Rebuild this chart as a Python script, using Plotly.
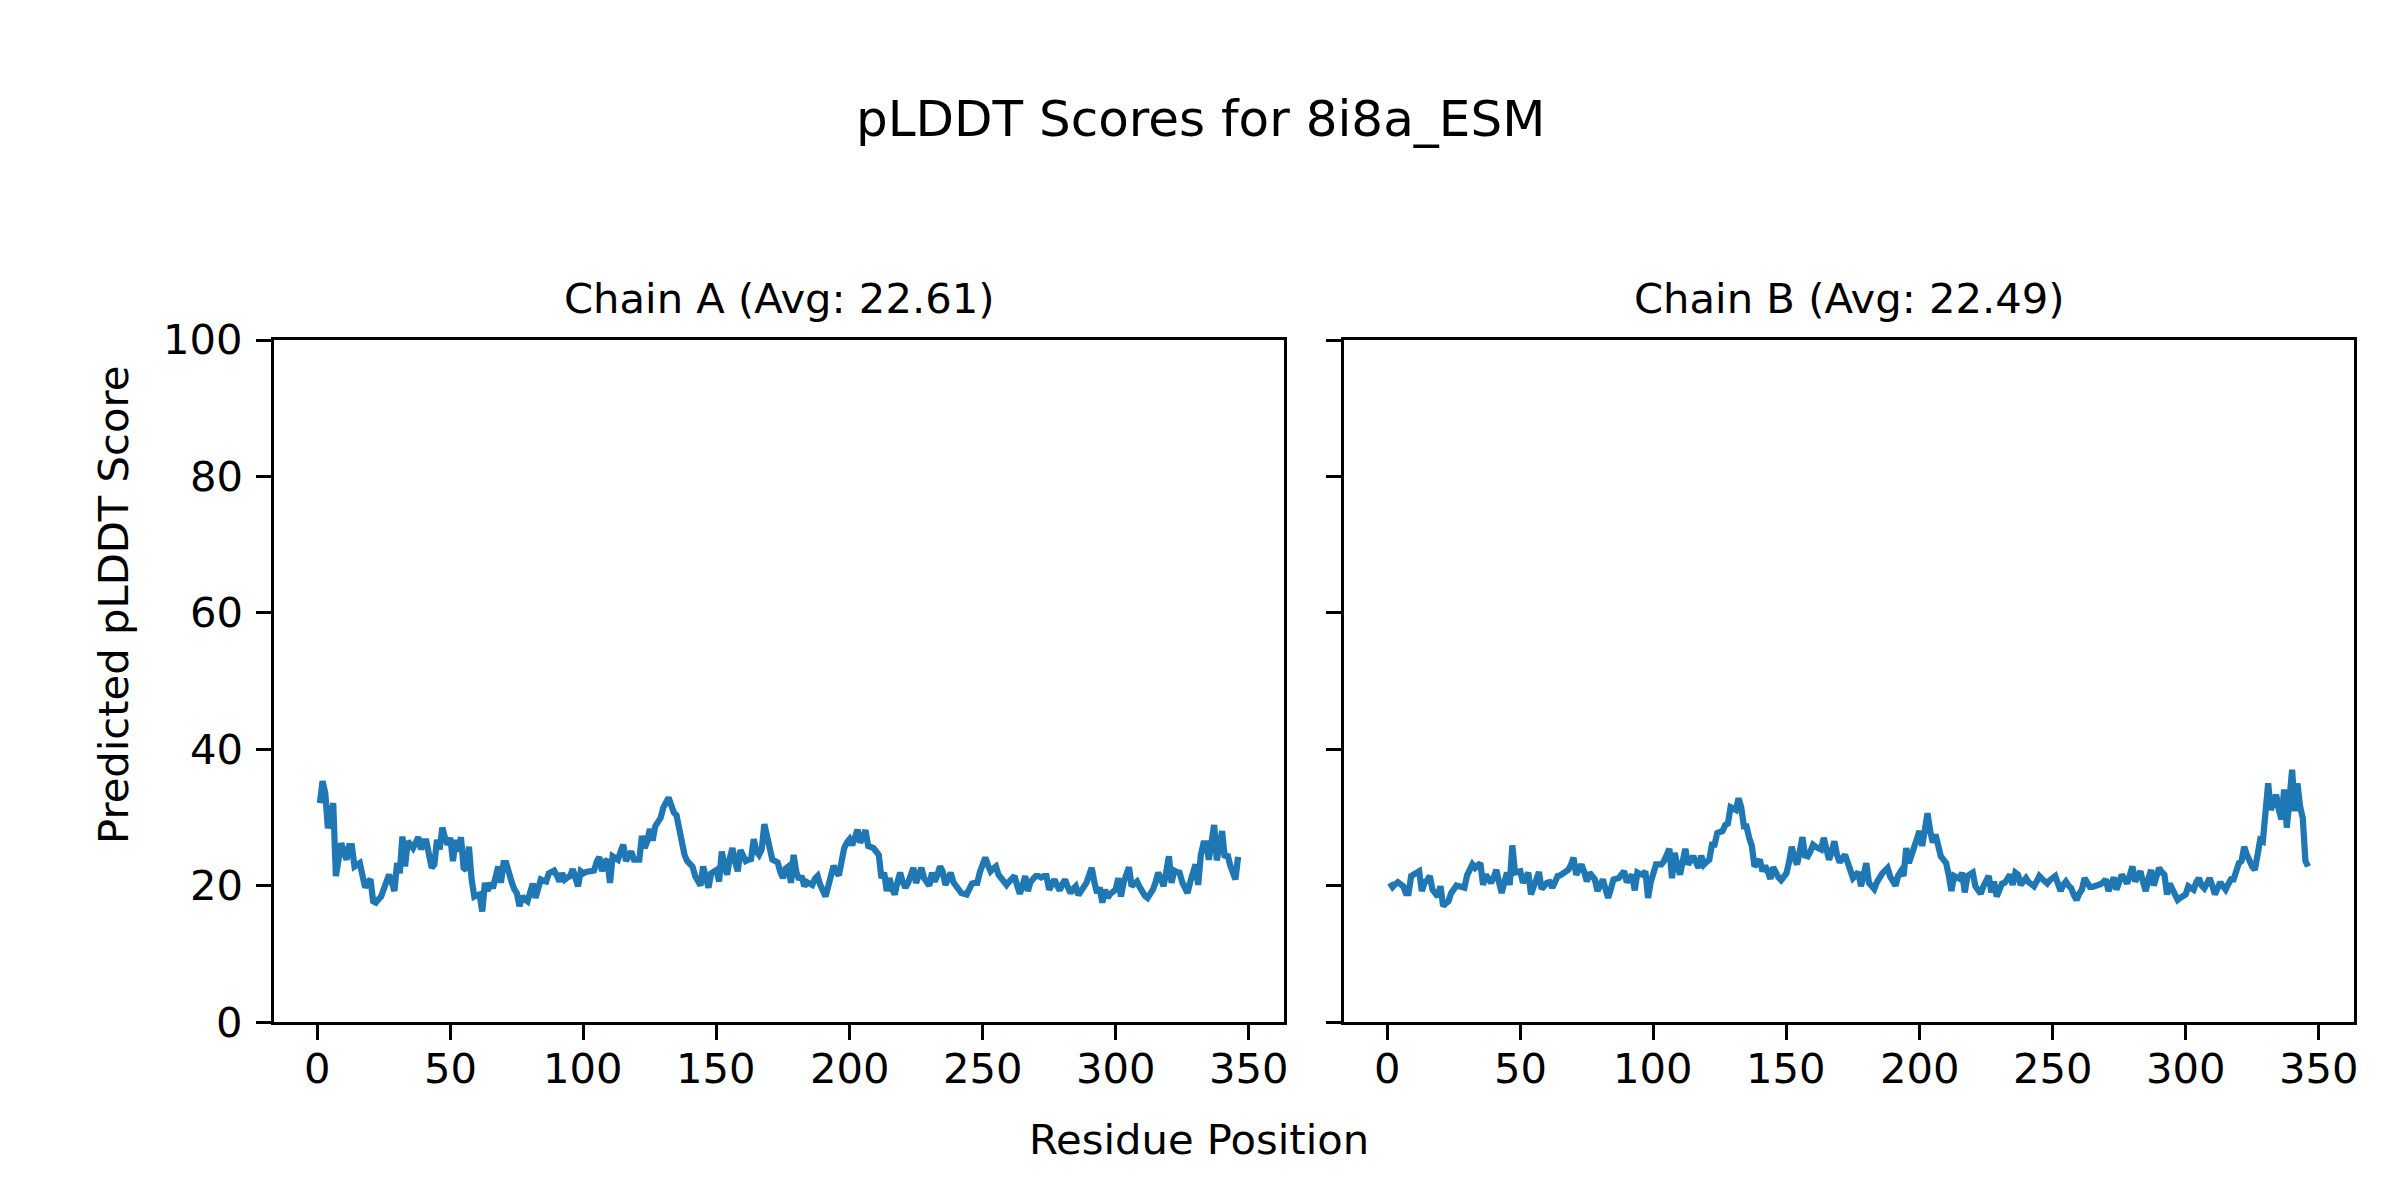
import plotly.graph_objects as go

title_text = "pLDDT Scores for 8i8a_ESM"
chain_titles = ["Chain A (Avg: 22.61)", "Chain B (Avg: 22.49)"]
x_label = "Residue Position"
y_label = "Predicted pLDDT Score"

chain_a = [
    32.1, 35.3, 33.6, 28.4, 30.0, 32.1, 21.4, 24.0, 26.2, 25.0,
    23.8, 25.8, 25.8, 22.8, 23.0, 23.3, 21.5, 19.7, 20.5, 20.9,
    17.7, 17.5, 18.0, 18.4, 19.5, 20.5, 21.6, 20.5, 19.2, 23.3,
    21.8, 27.2, 22.8, 26.5, 26.0, 25.5, 26.3, 27.1, 25.3, 26.5,
    26.5, 24.5, 22.6, 23.1, 26.7, 25.3, 28.5, 27.0, 26.0, 27.0,
    23.6, 26.7, 25.0, 27.1, 22.6, 22.3, 25.7, 20.9, 18.4, 18.6,
    18.7, 16.2, 20.4, 19.2, 20.4, 19.6, 21.0, 22.8, 20.4, 23.3,
    23.3, 21.5, 20.6, 19.5, 18.9, 17.0, 18.4, 18.0, 17.7, 19.0,
    20.3, 18.2, 19.5, 20.9, 20.7, 20.6, 21.8, 22.0, 22.2, 21.5,
    20.6, 21.8, 20.9, 21.2, 21.4, 22.4, 21.0, 19.9, 22.1, 21.8,
    22.0, 22.1, 22.1, 22.2, 23.5, 24.2, 22.1, 23.5, 23.8, 20.4,
    24.3, 24.0, 23.8, 25.0, 26.0, 23.6, 24.5, 25.0, 23.8, 23.8,
    23.8, 27.3, 25.5, 26.5, 28.3, 26.6, 28.7, 29.3, 29.9, 31.4,
    32.0, 32.9, 31.8, 30.7, 30.3, 28.0, 25.8, 24.5, 23.6, 23.0,
    22.8, 21.4, 20.8, 20.0, 22.8, 21.0, 19.7, 21.8, 22.0, 22.3,
    20.6, 25.0, 23.0, 21.6, 24.0, 25.5, 23.5, 22.1, 25.2, 24.3,
    23.6, 23.8, 23.9, 26.8, 25.0, 24.5, 25.3, 29.0, 27.0, 25.8,
    23.8, 23.6, 23.4, 22.0, 21.1, 22.5, 22.8, 20.4, 24.5, 22.0,
    20.9, 21.4, 19.9, 20.5, 20.3, 20.1, 21.0, 21.4, 20.1, 19.2,
    18.4, 19.9, 21.5, 22.9, 22.0, 21.5, 23.5, 25.5, 26.3, 26.8,
    25.9, 27.5, 28.2, 26.3, 27.2, 28.1, 25.8, 25.6, 25.5, 25.0,
    24.5, 21.1, 21.9, 19.2, 21.1, 19.5, 18.7, 20.5, 21.9, 20.5,
    19.7, 20.4, 21.5, 22.6, 20.4, 21.5, 22.6, 21.1, 20.5, 20.0,
    21.9, 20.6, 21.5, 22.8, 22.1, 20.1, 21.0, 21.9, 20.5, 19.9,
    19.3, 18.9, 18.8, 18.7, 19.5, 20.3, 20.4, 20.4, 22.0, 23.3,
    24.1, 23.0, 22.1, 22.5, 22.8, 21.6, 21.0, 20.3, 20.1, 20.6,
    21.0, 21.4, 20.0, 18.8, 20.0, 21.4, 19.2, 20.5, 21.0, 21.4,
    21.4, 21.2, 21.4, 21.4, 19.4, 20.2, 20.9, 20.0, 19.3, 20.2,
    20.9, 19.8, 18.9, 19.5, 19.9, 18.6, 19.2, 19.7, 20.4, 21.5,
    22.6, 20.5, 18.9, 19.7, 17.5, 19.4, 18.2, 18.8, 19.2, 19.4,
    21.1, 18.4, 20.5, 21.8, 22.7, 19.9, 20.3, 20.6, 19.8, 19.0,
    18.5, 18.2, 18.8, 19.4, 20.5, 21.9, 21.0, 19.9, 22.0, 24.3,
    20.4, 22.2, 22.0, 21.9, 20.5, 19.5, 18.9, 20.5, 22.0, 23.1,
    20.1, 24.5, 26.2, 26.2, 23.8, 26.5, 28.9, 23.7, 26.0, 28.0,
    24.1, 24.6, 23.0, 21.9, 20.9, 24.2,
]

chain_b = [
    20.4, 19.8, 20.2, 20.5, 20.2, 19.9, 18.9, 18.9, 21.4, 21.6,
    21.8, 22.1, 19.2, 20.4, 20.8, 21.4, 19.4, 18.9, 18.4, 19.9,
    17.0, 17.4, 17.7, 18.9, 19.4, 20.0, 19.9, 19.8, 19.7, 21.5,
    22.5, 23.1, 22.6, 22.9, 23.3, 20.1, 21.6, 21.0, 20.4, 21.2,
    22.3, 20.5, 18.9, 20.5, 21.9, 20.1, 25.9, 21.9, 22.0, 22.1,
    20.4, 21.2, 21.9, 18.7, 20.0, 20.6, 22.0, 19.5, 20.0, 20.4,
    20.5, 19.7, 20.5, 21.4, 21.5, 21.8, 22.0, 22.3, 23.0, 24.1,
    21.6, 22.5, 23.1, 22.0, 20.6, 21.9, 21.4, 20.9, 19.2, 20.2,
    20.9, 19.5, 18.2, 19.5, 20.9, 21.0, 21.1, 21.6, 22.1, 20.5,
    21.0, 21.6, 19.3, 21.9, 21.7, 21.6, 22.1, 18.2, 20.5, 21.6,
    23.1, 23.1, 23.1, 23.6, 24.5, 25.4, 21.1, 24.8, 23.0, 21.6,
    23.5, 25.4, 23.1, 23.8, 24.3, 23.4, 22.6, 24.4, 23.1, 23.5,
    23.8, 26.0, 26.0, 27.7, 27.9, 28.0, 28.9, 29.1, 31.5, 31.2,
    31.1, 32.8, 31.5, 28.7, 28.7, 27.0, 25.8, 22.8, 23.5, 23.8,
    22.1, 22.9, 22.0, 21.0, 22.7, 21.8, 21.2, 20.8, 21.3, 21.8,
    23.5, 25.7, 24.0, 23.1, 25.0, 27.1, 24.4, 24.3, 25.0, 26.0,
    25.7, 25.5, 25.3, 27.0, 25.0, 23.8, 25.0, 26.5, 24.5, 23.4,
    24.0, 24.5, 23.4, 22.3, 21.1, 21.5, 22.0, 19.9, 21.5, 23.3,
    20.4, 20.0, 19.5, 20.5, 21.3, 21.8, 22.2, 22.6, 21.3, 20.5,
    20.0, 21.5, 22.1, 21.4, 25.5, 23.3, 24.5, 26.0, 27.0, 28.0,
    25.8, 28.0, 30.6, 28.0, 26.3, 27.5, 26.0, 24.3, 23.8, 23.3,
    21.5, 19.2, 21.4, 21.2, 21.0, 21.9, 19.0, 21.4, 21.6, 21.9,
    19.9, 19.4, 18.8, 19.9, 20.5, 21.4, 19.0, 20.6, 18.4, 19.5,
    20.3, 20.4, 21.0, 21.6, 20.1, 21.9, 21.6, 20.1, 20.6, 21.1,
    20.5, 20.2, 19.9, 20.6, 21.4, 21.0, 20.6, 20.3, 20.8, 21.2,
    21.4, 20.3, 19.2, 20.1, 20.6, 20.0, 19.6, 18.6, 17.9, 18.8,
    19.4, 21.1, 20.4, 19.8, 19.8, 19.9, 19.9, 20.2, 20.5, 20.9,
    19.2, 20.5, 21.2, 19.4, 20.5, 21.6, 21.0, 20.3, 21.5, 22.8,
    20.6, 21.5, 22.1, 20.5, 19.2, 21.0, 22.3, 20.0, 21.3, 22.6,
    22.0, 21.6, 18.7, 20.3, 19.5, 18.5, 17.9, 18.2, 18.5, 18.7,
    19.9, 19.6, 19.4, 20.5, 21.1, 20.0, 19.6, 20.3, 21.1, 20.0,
    18.7, 19.6, 20.5, 19.9, 19.4, 20.2, 20.9, 20.9, 22.0, 23.3,
    23.6, 25.7, 24.5, 23.3, 22.8, 22.3, 24.5, 26.7, 26.5, 30.4,
    35.0, 31.1, 32.5, 33.3, 31.1, 29.7, 34.1, 28.5, 32.6, 37.0,
    30.9, 35.0, 31.6, 29.9, 23.6, 22.8,
]

x_ticks = [0, 50, 100, 150, 200, 250, 300, 350]
y_ticks = [0, 20, 40, 60, 80, 100]

residues_a = list(range(1, len(chain_a) + 1))
residues_b = list(range(1, len(chain_b) + 1))

W, H = 2400, 1200
OFF = 8  # page body margin offset to compensate
FONT = "DejaVu Sans"
TICK_PX = 41.7
LINE_COLOR = "#1f77b4"


def px_x(x):
    return (x - OFF) / W


def px_y(y):
    return 1 - (y - OFF) / H


fig = go.Figure()
fig.add_trace(go.Scatter(x=residues_a, y=chain_a, mode="lines",
                         line=dict(color=LINE_COLOR, width=6.25),
                         xaxis="x", yaxis="y", showlegend=False))
fig.add_trace(go.Scatter(x=residues_b, y=chain_b, mode="lines",
                         line=dict(color=LINE_COLOR, width=6.25),
                         xaxis="x2", yaxis="y2", showlegend=False))


def xr(vals):
    lo, hi = min(vals), max(vals)
    m = 0.05 * (hi - lo)
    return [lo - m, hi + m]


common_axis = dict(
    showgrid=False, zeroline=False, showline=True, linecolor="black",
    linewidth=3.3, mirror=True, ticks="outside", ticklen=15, tickwidth=3.3,
    tickcolor="black", showticklabels=False, automargin=False,
)

tick_font = dict(family=FONT, size=TICK_PX, color="black")

annotations = [
    dict(text=title_text, xref="paper", yref="paper", x=px_x(1200), y=px_y(119),
         xanchor="center", yanchor="middle", showarrow=False,
         font=dict(family=FONT, size=50, color="black")),
    dict(text=chain_titles[0], xref="paper", yref="paper",
         x=px_x((274 + 1284) / 2), y=px_y(299),
         xanchor="center", yanchor="middle", showarrow=False, font=tick_font),
    dict(text=chain_titles[1], xref="paper", yref="paper",
         x=px_x((1344 + 2354) / 2), y=px_y(299),
         xanchor="center", yanchor="middle", showarrow=False, font=tick_font),
    dict(text=x_label, xref="paper", yref="paper", x=px_x(1199), y=px_y(1139),
         xanchor="center", yanchor="middle", showarrow=False, font=tick_font),
    dict(text=y_label, xref="paper", yref="paper", x=px_x(113), y=px_y(605),
         xanchor="center", yanchor="middle", showarrow=False, textangle=-90,
         font=tick_font),
]

# tick labels placed at the tick values (text kept as real text)
for xref in ["x", "x2"]:
    for t in x_ticks:
        annotations.append(dict(text=str(t), xref=xref, yref="paper", x=t,
                                y=px_y(1068), xanchor="center", yanchor="middle",
                                showarrow=False, font=tick_font, borderpad=0))
for t in y_ticks:
    annotations.append(dict(text=str(t), xref="paper", yref="y", x=px_x(244),
                            y=t, xanchor="right", yanchor="middle",
                            showarrow=False, font=tick_font, borderpad=0))

yd = [px_y(1022), px_y(340)]
fig.update_layout(
    width=W, height=H, autosize=False,
    margin=dict(l=0, r=0, t=0, b=0, pad=0, autoexpand=False),
    showlegend=False,
    paper_bgcolor="white", plot_bgcolor="white",
    font=dict(family=FONT, color="black"),
    xaxis=dict(domain=[px_x(274), px_x(1284)], range=xr(residues_a),
               tickvals=x_ticks, anchor="y", **common_axis),
    yaxis=dict(domain=yd, range=[0, 100], tickvals=y_ticks, anchor="x",
               **common_axis),
    xaxis2=dict(domain=[px_x(1344), px_x(2354)], range=xr(residues_b),
                tickvals=x_ticks, anchor="y2", **common_axis),
    yaxis2=dict(domain=yd, range=[0, 100], tickvals=y_ticks, anchor="x2",
                **common_axis),
    annotations=annotations,
)

fig.write_html("out.html")
